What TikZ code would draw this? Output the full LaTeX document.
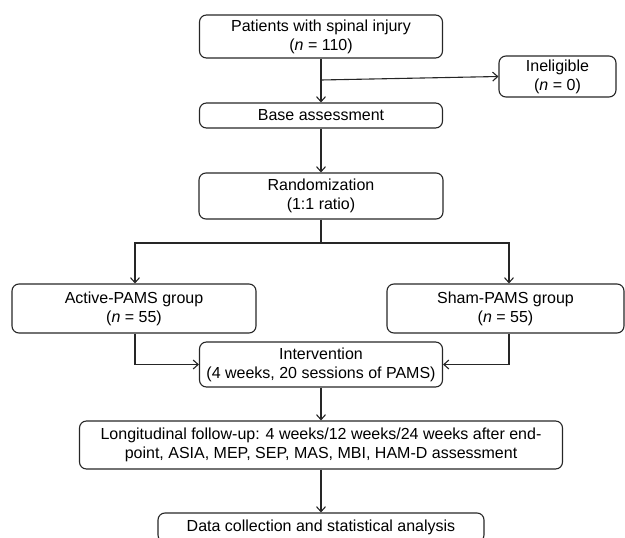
\documentclass[tikz,border=0pt]{standalone}
\usepackage{fontspec}
\setmainfont{Liberation Sans}
\usetikzlibrary{arrows.meta}
\tikzset{
  box/.style={draw=black!85, line width=1.1pt, rounded corners=7pt, align=center, inner sep=0pt,
    font=\fontsize{16}{19}\selectfont, text=black},
  arr/.style={draw=black!85, line width=1.1pt, -{Straight Barb[length=5pt,width=9pt,line width=1.1pt]}},
  ln/.style={draw=black!85, line width=1.1pt}
}
\begin{document}
\begin{tikzpicture}[x=1pt,y=-1pt]
\useasboundingbox (0,0) rectangle (625,538);
\node[box, minimum width=243pt, minimum height=43pt] (pat) at (321,36.5) {Patients with spinal injury\\(\textit{n} = 110)};
\node[box, minimum width=117pt, minimum height=41pt] (inel) at (557.5,76.5) {Ineligible\\(\textit{n} = 0)};
\node[box, minimum width=243pt, minimum height=25pt] (base) at (321,115.5) {Base assessment};
\node[box, minimum width=244pt, minimum height=46pt] (rand) at (321,196) {Randomization\\(1:1 ratio)};
\node[box, minimum width=244pt, minimum height=49pt] (act) at (134,308.5) {Active-PAMS group\\(\textit{n} = 55)};
\node[box, minimum width=237pt, minimum height=49pt] (sham) at (505.5,308.5) {Sham-PAMS group\\(\textit{n} = 55)};
\node[box, minimum width=243pt, minimum height=45pt] (int) at (321,364.5) {Intervention\\(4 weeks, 20 sessions of PAMS)};
\node[box, minimum width=483pt, minimum height=48pt] (long) at (321,445) {Longitudinal follow-up: 4 weeks/12 weeks/24 weeks after end-\\point, ASIA, MEP, SEP, MAS, MBI, HAM-D assessment};
\node[box, minimum width=326pt, minimum height=29pt] (data) at (321,527.5) {Data collection and statistical analysis};
\coordinate (br) at (321,80);
\coordinate (split) at (321,243);
\draw[arr] (pat.south) -- (base.north);
\draw[arr] (br) -- (inel.west);
\draw[arr] (base.south) -- (rand.north);
\draw[ln] (rand.south) -- (split);
\draw[arr] (split) -| ([xshift=1pt]act.north);
\draw[arr] (split) -| ([xshift=3.5pt]sham.north);
\draw[arr] ([xshift=1pt]act.south) |- (int.west);
\draw[arr] ([xshift=3.5pt]sham.south) |- (int.east);
\draw[arr] (int.south) -- (long.north);
\draw[arr] (long.south) -- (data.north);
\end{tikzpicture}
\end{document}
